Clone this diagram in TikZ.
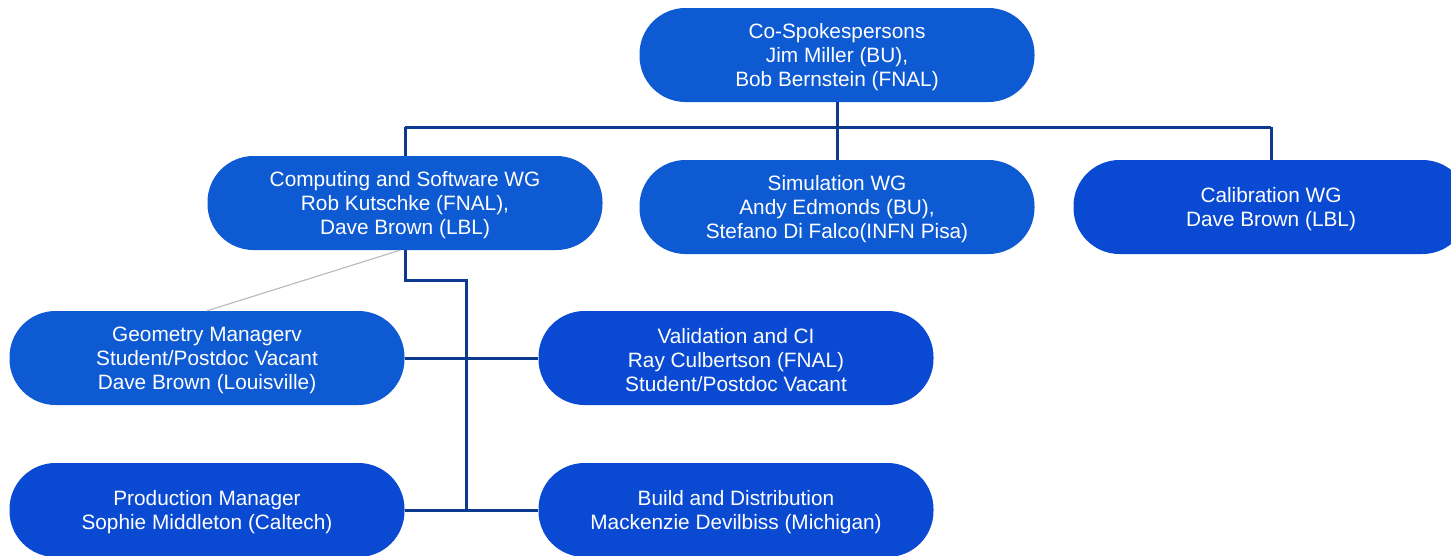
\documentclass[tikz,border=0pt]{standalone}
\usepackage{fontspec}
\setmainfont{Liberation Sans}
\definecolor{blueA}{HTML}{0E5AD3}
\definecolor{blueB}{HTML}{0A4AD3}
\definecolor{navy}{HTML}{0C3A8E}
\begin{document}
\begin{tikzpicture}[x=1pt,y=-1pt,
  pill/.style={rectangle, rounded corners=46pt, minimum width=395pt, minimum height=94pt,
    inner sep=0pt},
  pillA/.style={pill, fill=blueA},
  pillB/.style={pill, fill=blueB},
  txt/.style={text=white, align=center, inner sep=0pt, yshift=-2pt,
    font=\fontsize{20.8}{24}\selectfont},
  conn/.style={draw=navy, line width=3pt},
  thin/.style={draw=black!28, line width=1.1pt}]
\useasboundingbox (0,0) rectangle (1451,555);
\clip (0,0) rectangle (1451,555);
\node[pillA, label={[txt]center:{Co-Spokespersons\\Jim Miller (BU),\\Bob Bernstein (FNAL)}}] (cs) at (837,55) {};
\node[pillA, label={[txt]center:{Computing and Software WG\\Rob Kutschke (FNAL),\\Dave Brown (LBL)}}] (comp) at (405,203) {};
\node[pillA, label={[txt]center:{Simulation WG\\Andy Edmonds (BU),\\Stefano Di Falco(INFN Pisa)}}] (sim) at (837,207) {};
\node[pillB, label={[txt]center:{Calibration WG\\Dave Brown (LBL)}}] (cal) at (1271,207) {};
\node[pillA, label={[txt]center:{Geometry Managerv\\Student/Postdoc Vacant\\Dave Brown (Louisville)}}] (geo) at (207,358) {};
\node[pillB, label={[txt]center:{Validation and CI\\Ray Culbertson (FNAL)\\Student/Postdoc Vacant}}] (val) at (736,358) {};
\node[pillB, label={[txt]center:{Production Manager\\Sophie Middleton (Caltech)}}] (prod) at (207,510) {};
\node[pillB, label={[txt]center:{Build and Distribution\\Mackenzie Devilbiss (Michigan)}}] (build) at (736,510) {};
\coordinate (j1) at (837,127);
\coordinate (j2) at (405,280);
\coordinate (j3) at (466,280);
\coordinate (j4) at (466,510);
\draw[conn] (cs.south) -- (j1);
\draw[conn] (comp.north |- j1) -- (cal.north |- j1);
\draw[conn] (comp.north |- j1) -- (comp.north);
\draw[conn] (j1) -- (sim.north);
\draw[conn] (cal.north |- j1) -- (cal.north);
\draw[conn] (comp.south) -- (j2) -- (j3) -- (j4);
\draw[conn] (geo.east) -- (val.west);
\draw[conn] (prod.east) -- (build.west);
\draw[thin] ([xshift=-5pt]comp.south) -- (geo.north);
\end{tikzpicture}
\end{document}
